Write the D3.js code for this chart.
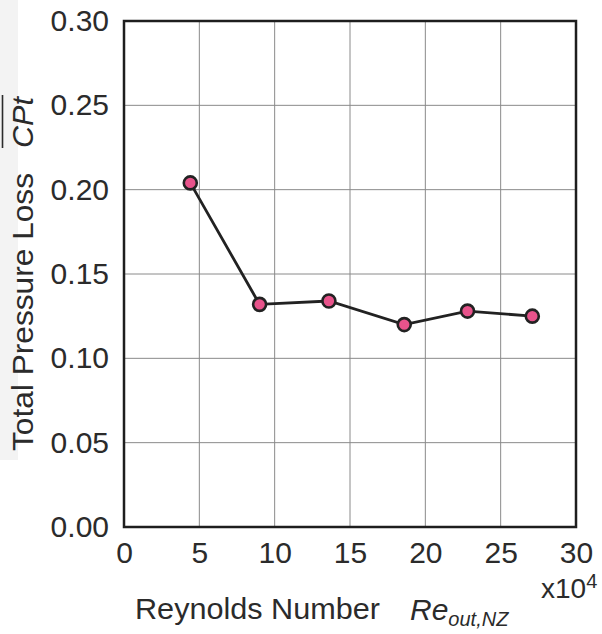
<!DOCTYPE html>
<html>
<head>
<meta charset="utf-8">
<script src="https://cdn.jsdelivr.net/npm/d3@7"></script>
<style>
  html, body { margin: 0; padding: 0; background: #fff; }
  svg { display: block; }
  text { font-family: "Liberation Sans", Arial, sans-serif; fill: #2b2b2b; }
</style>
</head>
<body>
<svg id="chart" width="602" height="634"></svg>
<script>
// Reynolds number (x10^4) and mean total pressure loss coefficient
const reynolds = [4.4, 9.0, 13.6, 18.6, 22.8, 27.1];
const pressureLoss = [0.204, 0.132, 0.134, 0.120, 0.128, 0.125];
const xTicks = [0, 5, 10, 15, 20, 25, 30];
const yTicks = [0, 0.05, 0.10, 0.15, 0.20, 0.25, 0.30];

const svg = d3.select("#chart");
const plot = { left: 124, right: 576, top: 21, bottom: 527 };

const x = d3.scaleLinear().domain([0, 30]).range([plot.left, plot.right]);
const y = d3.scaleLinear().domain([0, 0.30]).range([plot.bottom, plot.top]);

// faint strip along the left margin
svg.append("rect").attr("x", 0).attr("y", 0).attr("width", 18).attr("height", 460)
  .attr("fill", "#f3f3f3");

// grid
const grid = svg.append("g").attr("stroke", "#8a8a8a").attr("stroke-width", 1);
grid.selectAll("line.vx").data(xTicks.slice(1, -1)).join("line")
  .attr("x1", d => x(d)).attr("x2", d => x(d))
  .attr("y1", plot.top).attr("y2", plot.bottom);
grid.selectAll("line.hy").data(yTicks.slice(1, -1)).join("line")
  .attr("x1", plot.left).attr("x2", plot.right)
  .attr("y1", d => y(d)).attr("y2", d => y(d));

// frame
svg.append("rect")
  .attr("x", plot.left).attr("y", plot.top)
  .attr("width", plot.right - plot.left).attr("height", plot.bottom - plot.top)
  .attr("fill", "none").attr("stroke", "#1e1e1e").attr("stroke-width", 2.5);

// axes (labels only; the frame and grid carry the lines)
const yAxis = d3.axisLeft(y).tickValues(yTicks).tickFormat(d3.format(".2f")).tickSize(0).tickPadding(15);
const gy = svg.append("g").attr("transform", `translate(${plot.left},0)`).call(yAxis);
const xAxis = d3.axisBottom(x).tickValues(xTicks).tickFormat(d3.format("d")).tickSize(0).tickPadding(15);
const gx = svg.append("g").attr("transform", `translate(0,${plot.bottom})`).call(xAxis);
[gy, gx].forEach(g => {
  g.select(".domain").remove();
  g.selectAll("text").attr("font-size", 30).attr("fill", "#2b2b2b")
    .attr("font-family", "'Liberation Sans', Arial, sans-serif");
});

// data line and markers
const line = d3.line().x((d, i) => x(reynolds[i])).y(d => y(d));
svg.append("path").datum(pressureLoss)
  .attr("d", line).attr("fill", "none")
  .attr("stroke", "#222").attr("stroke-width", 2.8);
svg.selectAll("circle.pt").data(pressureLoss).join("circle")
  .attr("cx", (d, i) => x(reynolds[i])).attr("cy", d => y(d))
  .attr("r", 6.5).attr("fill", "#e8538b")
  .attr("stroke", "#222").attr("stroke-width", 2.6);

// x-axis title
svg.append("text").attr("x", 135).attr("y", 619).attr("font-size", 29)
  .attr("textLength", 245).attr("lengthAdjust", "spacingAndGlyphs")
  .text("Reynolds Number");
const re = svg.append("text").attr("x", 410).attr("y", 620).attr("font-size", 30)
  .attr("font-style", "italic");
re.append("tspan").text("Re");
re.append("tspan").attr("font-size", 20).attr("dy", 6).text("out,NZ");

// multiplier
const mt = svg.append("text").attr("x", 541).attr("y", 598).attr("font-size", 28);
mt.append("tspan").text("x10");
mt.append("tspan").attr("font-size", 20).attr("dy", -10).text("4");

// y-axis title
svg.append("text").attr("transform", "translate(33,451) rotate(-90)")
  .attr("font-size", 29).attr("textLength", 278).attr("lengthAdjust", "spacingAndGlyphs")
  .text("Total Pressure Loss");
svg.append("text").attr("transform", "translate(33,148) rotate(-90)")
  .attr("font-size", 29).attr("font-style", "italic")
  .attr("textLength", 51).attr("lengthAdjust", "spacingAndGlyphs").text("CPt");
svg.append("line").attr("x1", 2.5).attr("x2", 2.5).attr("y1", 95).attr("y2", 148)
  .attr("stroke", "#2b2b2b").attr("stroke-width", 1.6);
</script>
</body>
</html>
